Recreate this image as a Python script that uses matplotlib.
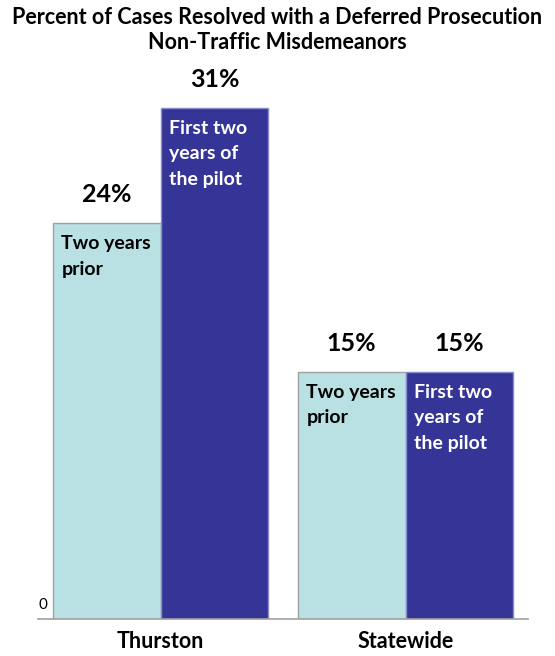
import matplotlib
matplotlib.use('Agg')
import matplotlib.pyplot as plt
import numpy as np

# chart data
groups = ["Thurston", "Statewide"]
prior = [24, 15]
pilot = [31, 15]
prior_label = "Two years\nprior"
pilot_label = "First two\nyears of\nthe pilot"

light = "#b9e0e3"
dark = "#353598"

plt.rcParams['font.family'] = ['Lato', 'DejaVu Sans']

fig = plt.figure(figsize=(5.55, 6.56), dpi=100)
ax = fig.add_axes([38 / 555, 37 / 656, 490 / 555, 33 * 16.5 / 656])

x = np.arange(len(groups))
w = 0.44
b1 = ax.bar(x - w / 2, prior, w, color=light, edgecolor="#a0a0a0", linewidth=1)
b2 = ax.bar(x + w / 2, pilot, w, color=dark, edgecolor="#8a8ad0", linewidth=1)

ax.set_xlim(-0.5, 1.5)
ax.set_ylim(0, 33)

for bars in (b1, b2):
    for rect in bars:
        h = rect.get_height()
        ax.text(rect.get_x() + rect.get_width() / 2, h + 1.0, "%d%%" % h,
                ha="center", va="bottom", fontsize=18, fontweight="bold", color="black")

for rect in b1:
    ax.text(rect.get_x() + 0.035, rect.get_height() - 0.75, prior_label,
            ha="left", va="top", fontsize=14, fontweight="bold", color="black",
            linespacing=1.6)
for rect in b2:
    ax.text(rect.get_x() + 0.035, rect.get_height() - 0.75, pilot_label,
            ha="left", va="top", fontsize=14, fontweight="bold", color="white",
            linespacing=1.6)

for s in ("left", "right", "top"):
    ax.spines[s].set_visible(False)
ax.spines["bottom"].set_color("#a0a0a0")
ax.spines["bottom"].set_linewidth(1.2)
ax.set_yticks([])
ax.set_xticks(x)
ax.set_xticklabels(groups, fontsize=15.5, fontweight="bold")
ax.tick_params(axis="x", length=0, pad=9)
ax.text(-0.48, 0.4, "0", ha="center", va="bottom", fontsize=11)

fig.text(0.5, 0.99, "Percent of Cases Resolved with a Deferred Prosecution\nNon-Traffic Misdemeanors",
         ha="center", va="top", fontsize=15.5, fontweight="bold", linespacing=1.25)

plt.savefig("out.png", dpi=100)
